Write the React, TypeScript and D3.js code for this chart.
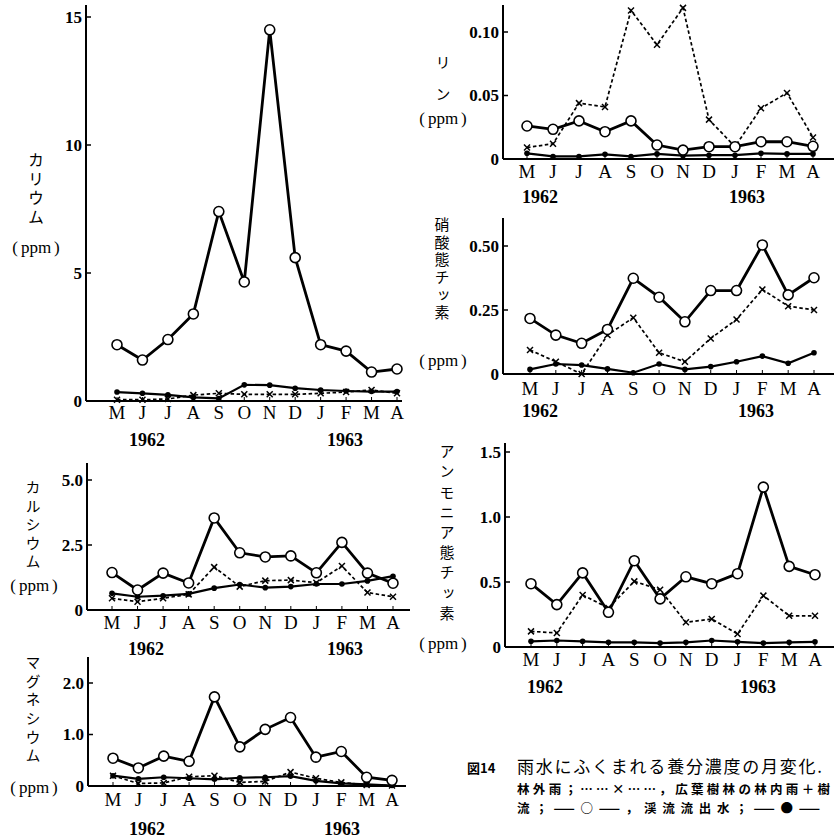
import React from 'react';
import * as d3 from 'd3';

// 月 (1962年5月〜1963年4月)
const months = ['M', 'J', 'J', 'A', 'S', 'O', 'N', 'D', 'J', 'F', 'M', 'A'];

// カリウム
const kThrough = [2.2, 1.6, 2.4, 3.4, 7.4, 4.65, 14.5, 5.6, 2.2, 1.95, 1.13, 1.25];
const kRain = [0.05, 0.05, 0.08, 0.23, 0.3, 0.26, 0.26, 0.26, 0.3, 0.35, 0.43, 0.3];
const kStream = [0.35, 0.3, 0.24, 0.14, 0.1, 0.63, 0.62, 0.5, 0.43, 0.39, 0.37, 0.37];

// カルシウム
const caThrough = [1.44, 0.77, 1.42, 1.04, 3.54, 2.2, 2.04, 2.08, 1.43, 2.6, 1.42, 1.03];
const caRain = [0.45, 0.32, 0.45, 0.6, 1.65, 0.9, 1.13, 1.15, 1.05, 1.69, 0.67, 0.51];
const caStream = [0.64, 0.51, 0.55, 0.62, 0.84, 0.98, 0.86, 0.9, 1.0, 1.0, 1.12, 1.3];

// マグネシウム
const mgThrough = [0.54, 0.35, 0.58, 0.48, 1.73, 0.76, 1.1, 1.33, 0.56, 0.67, 0.17, 0.11];
const mgRain = [0.2, 0.05, 0.06, 0.18, 0.2, 0.07, 0.09, 0.27, 0.15, 0.07, 0.02, 0.01];
const mgStream = [0.2, 0.14, 0.17, 0.15, 0.13, 0.16, 0.17, 0.19, 0.1, 0.05, 0.03, 0.01];

// リン
const pThrough = [0.026, 0.0234, 0.03, 0.0215, 0.03, 0.011, 0.007, 0.0097, 0.0097, 0.0136, 0.0136, 0.01];
const pRain = [0.009, 0.012, 0.044, 0.041, 0.117, 0.09, 0.119, 0.031, 0.0097, 0.04, 0.052, 0.017];
const pStream = [0.0045, 0.002, 0.002, 0.0037, 0.002, 0.004, 0.0026, 0.003, 0.003, 0.0045, 0.004, 0.004];

// 硝酸態チッ素
const no3Through = [0.217, 0.152, 0.12, 0.174, 0.374, 0.3, 0.204, 0.326, 0.326, 0.504, 0.309, 0.376];
const no3Rain = [0.094, 0.048, 0.0, 0.152, 0.22, 0.083, 0.048, 0.139, 0.213, 0.33, 0.265, 0.25];
const no3Stream = [0.018, 0.039, 0.035, 0.02, 0.005, 0.039, 0.018, 0.029, 0.048, 0.07, 0.042, 0.083];

// アンモニア態チッ素
const nh4Through = [0.487, 0.326, 0.57, 0.267, 0.664, 0.37, 0.54, 0.487, 0.564, 1.23, 0.62, 0.556];
const nh4Rain = [0.12, 0.108, 0.4, 0.3, 0.505, 0.44, 0.19, 0.215, 0.1, 0.395, 0.24, 0.24];
const nh4Stream = [0.044, 0.05, 0.044, 0.036, 0.036, 0.03, 0.036, 0.05, 0.04, 0.03, 0.036, 0.04];

const serif = '"Liberation Serif", "DejaVu Serif", serif';
const jp = '"Noto Sans CJK JP", sans-serif';

type PanelProps = {
  axisX: number; axisTop: number; axisRight: number;
  y0: number; refVal: number; refPix: number;
  ticks: number[]; fmt: (v: number) => string;
  xFirst: number; xLast: number;
  monthY: number; yearY: number; year62X: number; year63X: number;
  through: number[]; rain: number[]; stream: number[];
  label: string; labelX: number; labelY: number; labelGap: number; labelSize: number;
  ppmX: number; ppmY: number;
};

const Panel = (p: PanelProps) => {
  const y = d3.scaleLinear().domain([0, p.refVal]).range([p.y0, p.refPix]);
  const x = d3.scalePoint<number>().domain(d3.range(12)).range([p.xFirst, p.xLast]);
  const line = d3.line<number>().x((_, i) => x(i) as number).y(d => y(d));

  return (
    <g>
      {/* axes */}
      <line x1={p.axisX} x2={p.axisX} y1={p.axisTop} y2={p.y0} stroke="#000" strokeWidth={2} />
      <line x1={p.axisX} x2={p.axisRight} y1={p.y0} y2={p.y0} stroke="#000" strokeWidth={2} />
      {p.ticks.map(t => (
        <g key={t}>
          {t > 0 && <line x1={p.axisX} x2={p.axisX + 5} y1={y(t)} y2={y(t)} stroke="#000" strokeWidth={1.5} />}
          <text x={p.axisX - 4} y={y(t)} dy="0.35em" textAnchor="end" fontFamily={serif}
            fontSize={17} fontWeight="bold">{p.fmt(t)}</text>
        </g>
      ))}
      {months.map((m, i) => (
        <g key={i}>
          <line x1={x(i)} x2={x(i)} y1={p.y0} y2={p.y0 - 4} stroke="#000" strokeWidth={1} />
          <text x={x(i)} y={p.monthY} textAnchor="middle" fontFamily={serif} fontSize={19}>{m}</text>
        </g>
      ))}
      <text x={p.year62X} y={p.yearY} textAnchor="middle" fontFamily={serif} fontSize={18} fontWeight="bold">1962</text>
      <text x={p.year63X} y={p.yearY} textAnchor="middle" fontFamily={serif} fontSize={18} fontWeight="bold">1963</text>

      {/* 縦書きラベル */}
      <text x={p.labelX} y={p.labelY} fontFamily={jp} fontSize={p.labelSize}
        style={{ writingMode: 'vertical-rl', letterSpacing: `${p.labelGap}px` }}>{p.label}</text>
      <text x={p.ppmX} y={p.ppmY} dy="0.35em" textAnchor="middle" fontFamily={serif} fontSize={17}>
        (<tspan dx={3}>ppm</tspan><tspan dx={3}>)</tspan>
      </text>

      {/* 林外雨 */}
      <path d={line(p.rain) || ''} fill="none" stroke="#000" strokeWidth={1.7} strokeDasharray="3.5,2.5" />
      {p.rain.map((v, i) => (
        <g key={i} transform={`translate(${x(i)},${y(v)})`} stroke="#000" strokeWidth={1.5}>
          <line x1={-3} x2={3} y1={-3} y2={3} />
          <line x1={-3} x2={3} y1={3} y2={-3} />
        </g>
      ))}
      {/* 渓流流出水 */}
      <path d={line(p.stream) || ''} fill="none" stroke="#000" strokeWidth={2.2} />
      {p.stream.map((v, i) => (
        <circle key={i} cx={x(i)} cy={y(v)} r={2.8} fill="#000" />
      ))}
      {/* 林内雨+樹幹流 */}
      <path d={line(p.through) || ''} fill="none" stroke="#000" strokeWidth={2.8} />
      {p.through.map((v, i) => (
        <circle key={i} cx={x(i)} cy={y(v)} r={5} fill="#fff" stroke="#000" strokeWidth={1.6} />
      ))}
    </g>
  );
};

const App = () => {
  return (
    <svg width={834} height={840} style={{ position: 'absolute', left: 0, top: 0, background: '#fff' }}>
      <rect width={834} height={840} fill="#fff" />
      <Panel axisX={86} axisTop={5} axisRight={402} y0={401} refVal={15} refPix={17}
        ticks={[0, 5, 10, 15]} fmt={d => String(d)} xFirst={117} xLast={397}
        monthY={419} yearY={446} year62X={147} year63X={345}
        through={kThrough} rain={kRain} stream={kStream}
        label="カリウム" labelX={36} labelY={152} labelGap={3} labelSize={16}
        ppmX={36} ppmY={247} />
      <Panel axisX={87} axisTop={463} axisRight={410} y0={610} refVal={5} refPix={480}
        ticks={[0, 2.5, 5]} fmt={d => d === 0 ? '0' : d.toFixed(1)} xFirst={112} xLast={393}
        monthY={629} yearY={655} year62X={146} year63X={345}
        through={caThrough} rain={caRain} stream={caStream}
        label="カルシウム" labelX={33} labelY={480} labelGap={3.5} labelSize={15}
        ppmX={34} ppmY={585} />
      <Panel axisX={88} axisTop={657} axisRight={406} y0={786} refVal={2} refPix={683}
        ticks={[0, 1, 2]} fmt={d => d === 0 ? '0' : d.toFixed(1)} xFirst={113} xLast={392}
        monthY={806} yearY={835} year62X={147} year63X={342}
        through={mgThrough} rain={mgRain} stream={mgStream}
        label="マグネシウム" labelX={33} labelY={655} labelGap={3.6} labelSize={15}
        ppmX={34} ppmY={787} />
      <Panel axisX={503} axisTop={5} axisRight={834} y0={159} refVal={0.1} refPix={32}
        ticks={[0, 0.05, 0.1]} fmt={d => d === 0 ? '0' : d.toFixed(2)} xFirst={527} xLast={813}
        monthY={178} yearY={203} year62X={540} year63X={747}
        through={pThrough} rain={pRain} stream={pStream}
        label="リン" labelX={443} labelY={55} labelGap={17} labelSize={15}
        ppmX={443} ppmY={118} />
      <Panel axisX={503} axisTop={218} axisRight={834} y0={374} refVal={0.5} refPix={246}
        ticks={[0, 0.25, 0.5]} fmt={d => d === 0 ? '0' : d.toFixed(2)} xFirst={530} xLast={814}
        monthY={395} yearY={417} year62X={540} year63X={756}
        through={no3Through} rain={no3Rain} stream={no3Stream}
        label="硝酸態チッ素" labelX={442} labelY={217} labelGap={2.6} labelSize={15}
        ppmX={443} ppmY={360} />
      <Panel axisX={505} axisTop={443} axisRight={834} y0={647} refVal={1.5} refPix={452}
        ticks={[0, 0.5, 1, 1.5]} fmt={d => d === 0 ? '0' : d.toFixed(1)} xFirst={531} xLast={815}
        monthY={666} yearY={693} year62X={545} year63X={758}
        through={nh4Through} rain={nh4Rain} stream={nh4Stream}
        label="アンモニア態チッ素" labelX={447} labelY={444} labelGap={5.2} labelSize={15}
        ppmX={443} ppmY={643} />

      {/* caption */}
      <text x={467} y={773} fontFamily={jp} fontSize={13} fontWeight="bold">図14</text>
      <text x={517} y={773} fontFamily={jp} fontSize={17} textLength={305} lengthAdjust="spacing">
        雨水にふくまれる養分濃度の月変化.
      </text>
      <text x={517} y={794} fontFamily={jp} fontSize={12.5} fontWeight="bold" textLength={313} lengthAdjust="spacing">
        林外雨；……×……，広葉樹林の林内雨＋樹
      </text>
      <text x={517} y={813} fontFamily={jp} fontSize={12.5} fontWeight="bold" textLength={303} lengthAdjust="spacing">
        流；——○——，渓流流出水；——●——
      </text>
    </svg>
  );
};

export default App;
